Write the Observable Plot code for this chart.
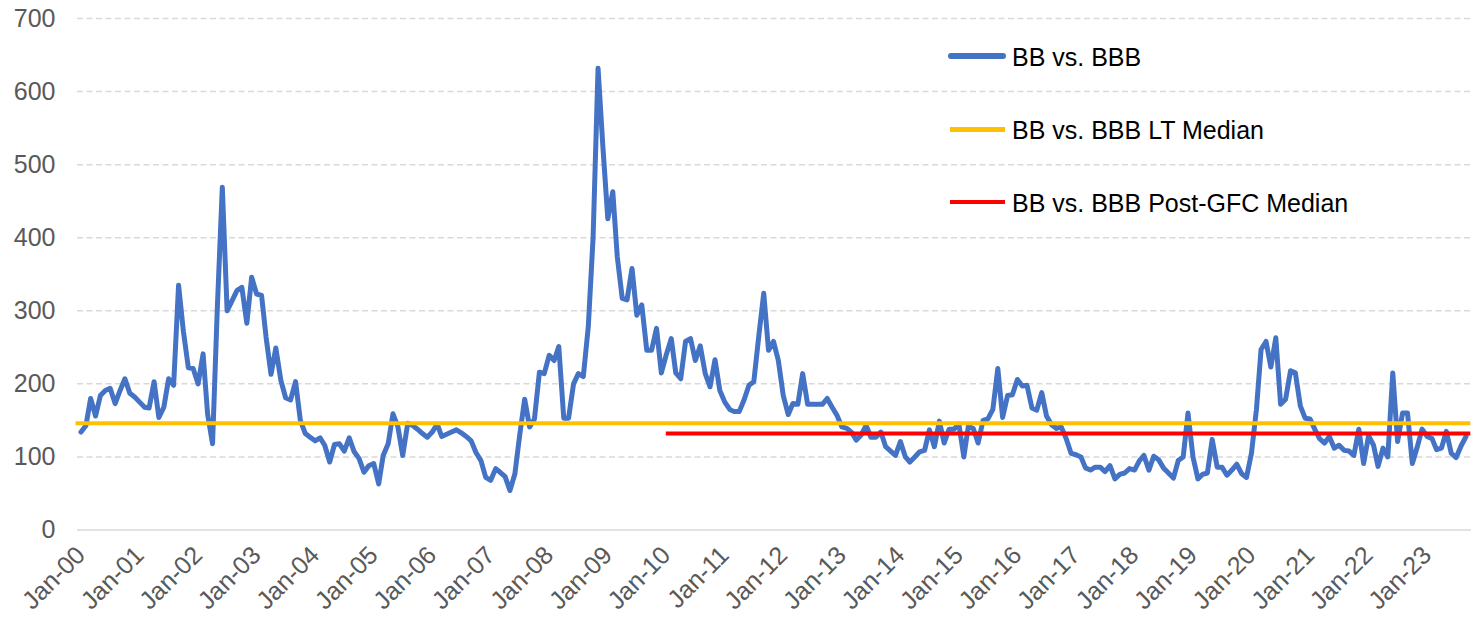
<!DOCTYPE html>
<html>
<head>
<meta charset="utf-8">
<script src="https://cdn.jsdelivr.net/npm/d3@7"></script>
<script src="https://cdn.jsdelivr.net/npm/@observablehq/plot@0.6"></script>
<style>
  html, body { margin: 0; padding: 0; background: #fff; }
  #wrap { position: relative; width: 1471px; height: 617px; font-family: "Liberation Sans", Arial, sans-serif; }
  #wrap svg { position: absolute; left: 0; top: 0; }
  .legrow { position: absolute; height: 28px; }
  .legrow .sw { position: absolute; }
  .legrow .tx { position: absolute; top: 0; font-size: 25px; line-height: 28px; color: #000; white-space: nowrap; }
</style>
</head>
<body>
<div id="wrap"></div>
<script>
// ---- data (monthly, Jan-2000 .. Sep-2023), spread in bp ----
const firstYear = 2000;
const spread = [
  134,143,180,156,184,191,194,173,191,207,187,182,   // 2000
  175,168,167,203,154,168,207,198,335,272,222,221,   // 2001
  200,241,159,118,305,469,300,314,328,332,283,346,   // 2002
  323,321,264,213,249,205,181,178,203,150,132,127,   // 2003
  122,126,116,93,117,118,108,126,107,98,79,88,       // 2004
  91,63,102,118,159,141,102,146,143,138,132,127,     // 2005
  134,145,128,131,134,137,133,128,122,106,95,72,     // 2006
  68,84,79,73,54,77,130,179,141,152,216,214,         // 2007
  239,232,251,153,153,200,214,210,278,400,632,525,   // 2008
  426,463,374,317,315,358,294,308,246,246,276,215,   // 2009
  240,262,215,207,258,262,232,252,214,196,233,191,   // 2010
  175,165,162,162,178,198,203,265,324,246,258,232,   // 2011
  184,158,173,172,214,172,172,172,172,180,168,157,   // 2012
  141,139,134,123,130,143,127,127,134,114,108,102,   // 2013
  121,100,93,100,107,109,137,114,149,119,138,138,    // 2014
  145,100,142,139,119,150,152,165,221,154,184,185,   // 2015
  206,197,198,167,164,188,156,144,139,141,125,105,   // 2016
  103,100,85,82,86,86,80,88,70,76,78,84,             // 2017
  82,95,102,82,101,96,85,78,71,95,100,160,           // 2018
  100,70,76,78,124,86,86,75,82,90,77,72,             // 2019
  105,165,247,258,223,263,172,179,218,215,170,153,   // 2020
  152,137,125,119,128,112,116,109,108,102,138,91,    // 2021
  129,116,87,112,100,215,121,160,160,91,114,138,     // 2022
  128,125,110,112,135,105,99,115,128                 // 2023 (Jan-Sep)
];
const ltMedian = 146;            // BB vs. BBB long-term median
const postGfcMedian = 132;       // BB vs. BBB post-GFC median
const medianStart = [1999, 11];  // LT median line start (year, month index)
const postGfcStart = [2010, 0];  // post-GFC median line start
const medianEnd = [2023, 9];     // both median lines run to the right edge
const yTicks = [0, 100, 200, 300, 400, 500, 600, 700];
const tickYears = d3.range(2000, 2024);
const seriesNames = ["BB vs. BBB", "BB vs. BBB LT Median", "BB vs. BBB Post-GFC Median"];
const seriesColors = ["#4472C4", "#FFC000", "#FF0000"];

// ---- build tables ----
const utc = ([y, m]) => new Date(Date.UTC(y, m, 1));
const data = spread.map((v, i) => ({date: new Date(Date.UTC(firstYear, i, 1)), value: v}));
const tickDates = tickYears.map(y => utc([y, 0]));
const medians = [
  {y: ltMedian, x1: utc(medianStart), x2: utc(medianEnd), c: seriesColors[1]},
  {y: postGfcMedian, x1: utc(postGfcStart), x2: utc(medianEnd), c: seriesColors[2]}
];
const fmt = d3.utcFormat("%b-%y");

const chart = Plot.plot({
  width: 1471,
  height: 617,
  marginLeft: 77,
  marginRight: 0,
  marginTop: 18,
  marginBottom: 87.5,
  style: {fontFamily: "'Liberation Sans', Arial, sans-serif", background: "#fff", overflow: "visible"},
  x: {type: "utc", domain: [data[0].date, data[data.length - 1].date], insetLeft: 3.5, insetRight: 5.5},
  y: {domain: [0, 700]},
  marks: [
    Plot.ruleY(yTicks.filter(d => d > 0), {stroke: "#D9D9D9", strokeWidth: 1.5, strokeDasharray: "6,3.5"}),
    Plot.ruleY([0], {stroke: "#D9D9D9", strokeWidth: 1.5}),
    Plot.axisY({ticks: yTicks, tickSize: 0, tickPadding: 22, fontSize: 25, color: "#595959", label: null}),
    Plot.axisX({ticks: tickDates, tickFormat: fmt, tickRotate: -45, tickSize: 0, tickPadding: 21, fontSize: 25, color: "#595959", label: null}),
    Plot.line(data, {x: "date", y: "value", stroke: seriesColors[0], strokeWidth: 5, strokeLinejoin: "round", strokeLinecap: "round"}),
    Plot.ruleY(medians, {y: "y", x1: "x1", x2: "x2", stroke: "c", strokeWidth: 4})
  ]
});

const wrap = document.getElementById("wrap");
wrap.appendChild(chart);

// ---- legend overlay (inside plot area, top right) ----
const legTops = [43, 116, 189];
const swH = [6, 5, 4.7];
seriesNames.forEach((name, k) => {
  const row = document.createElement("div");
  row.className = "legrow";
  row.style.left = "948px";
  row.style.top = legTops[k] + "px";
  const sw = document.createElement("div");
  sw.className = "sw";
  sw.style.left = (k === 0 ? 0 : 2) + "px";
  sw.style.width = (k === 0 ? 58 : 55) + "px";
  sw.style.height = swH[k] + "px";
  sw.style.top = (13 - swH[k] / 2) + "px";
  sw.style.background = seriesColors[k];
  if (k === 0) sw.style.borderRadius = "3px";
  const tx = document.createElement("div");
  tx.className = "tx";
  tx.style.left = "64px";
  tx.textContent = name;
  row.appendChild(sw);
  row.appendChild(tx);
  wrap.appendChild(row);
});
</script>
</body>
</html>
